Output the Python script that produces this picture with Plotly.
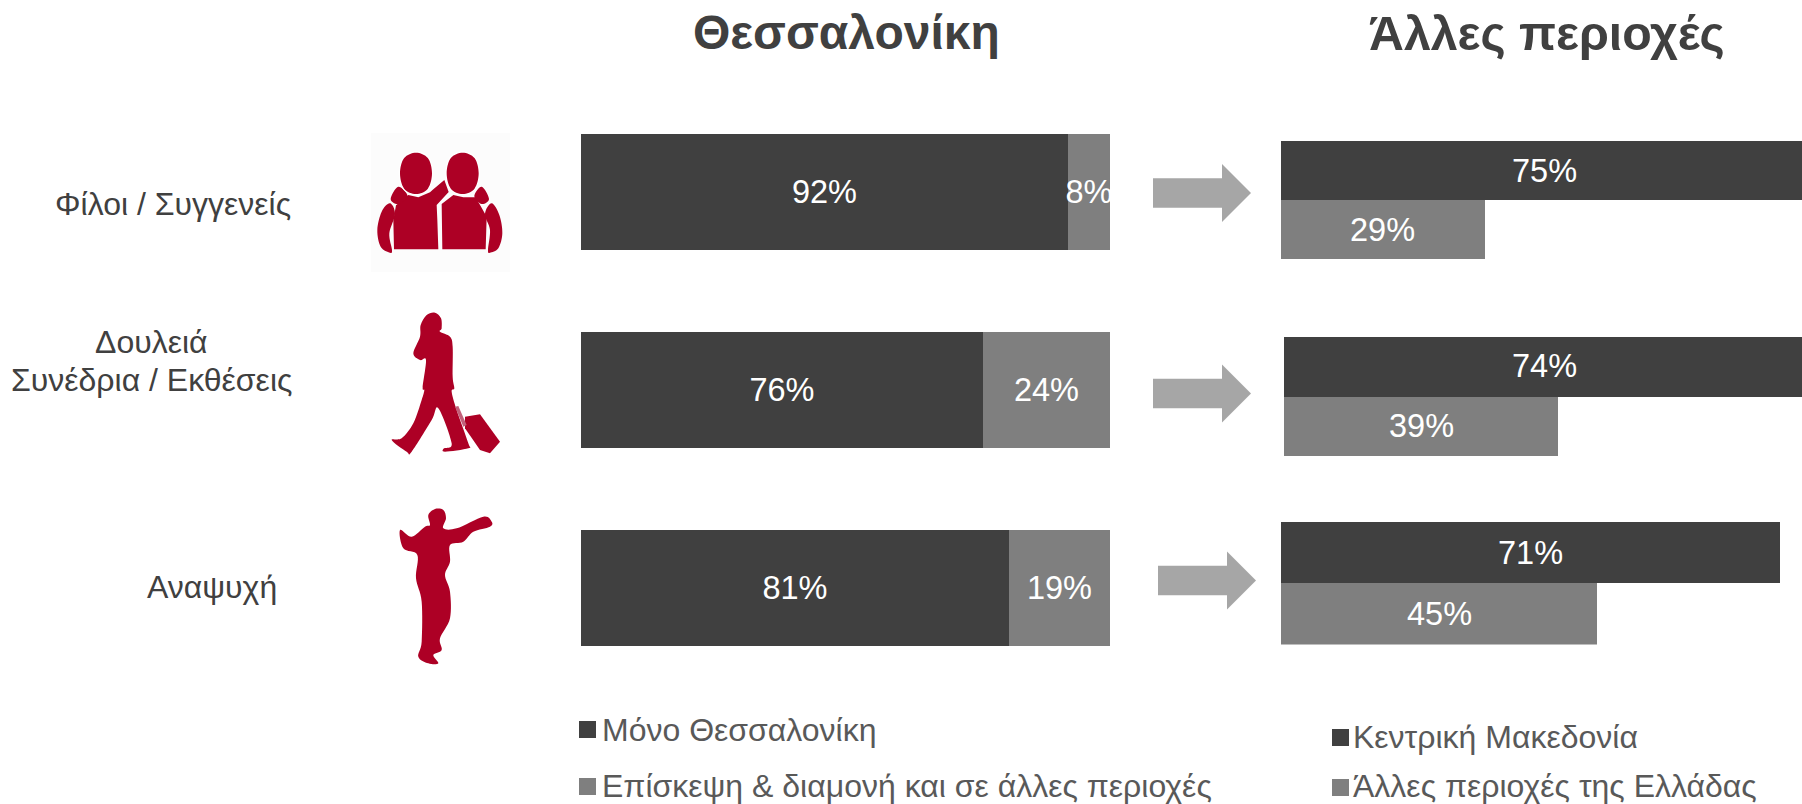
import plotly.graph_objects as go

W, H = 1802, 804
FONT = "Liberation Sans, Arial, sans-serif"
DARK, GREY, ARROW, RED, TXT = "#404040", "#7f7f7f", "#a6a6a6", "#ad0025", "#404040"

# ---------- data ----------
categories = ["Φίλοι / Συγγενείς", "Δουλειά<br>Συνέδρια / Εκθέσεις", "Αναψυχή"]
only_thess = [92, 76, 81]
other_stay = [8, 24, 19]
central_mac = [75, 74, 71]
rest_greece = [29, 39, 45]
titles = ["Θεσσαλονίκη", "Άλλες περιοχές"]
legend_left = ["Μόνο Θεσσαλονίκη", "Επίσκεψη & διαμονή και σε άλλες περιοχές"]
legend_right = ["Κεντρική Μακεδονία", "Άλλες περιοχές της Ελλάδας"]

# ---------- layout helpers (pixels -> fractions) ----------
def xd(a, b):
    return [a / W, min(b / W, 1)]

def yd(top, bottom):
    return [1 - bottom / H, 1 - top / H]

fig = go.Figure()
layout = dict(
    width=W, height=H, margin=dict(l=0, r=0, t=0, b=0, pad=0), autosize=False,
    paper_bgcolor="white", plot_bgcolor="rgba(0,0,0,0)", showlegend=False,
    barmode="stack", bargap=0, font=dict(family=FONT, color=TXT),
)

def hide(**kw):
    return dict(visible=False, fixedrange=True, **kw)

annotations = []

# Left panel: one axis pair, three rows
layout["xaxis"] = hide(domain=xd(581, 1110), range=[0, 100], anchor="y")
layout["yaxis"] = hide(domain=yd(93.3, 687.3), autorange="reversed", type="category",
                       categoryorder="array", categoryarray=categories, anchor="x")
TXTF = dict(family=FONT, size=32.5, color="white")
common = dict(orientation="h", textposition="inside", insidetextanchor="middle",
              textangle=0, constraintext="none", texttemplate="%{x}%",
              textfont=TXTF, insidetextfont=TXTF, cliponaxis=False,
              width=0.582, marker_line_width=0, hoverinfo="skip")
fig.add_bar(y=categories, x=only_thess, name=legend_left[0], marker_color=DARK, xaxis="x", yaxis="y", **common)
fig.add_bar(y=categories, x=other_stay, name=legend_left[1], marker_color=GREY, xaxis="x", yaxis="y", **common)

# Right panels: one axis pair per row
PX_PER_PCT = 7.03
right_rows = [(1281, 141, 259), (1284, 336.5, 456), (1281, 522, 644.5)]
for i, (x0, top, bot) in enumerate(right_rows):
    n = i + 2
    xa, ya = f"x{n}", f"y{n}"
    layout[f"xaxis{n}"] = hide(domain=xd(x0, W), range=[0, (W - x0) / PX_PER_PCT], anchor=ya)
    layout[f"yaxis{n}"] = hide(domain=yd(top, bot), range=[1.5, -0.5], type="linear", anchor=xa)
    for j, (vals, col, name) in enumerate([(central_mac, DARK, legend_right[0]), (rest_greece, GREY, legend_right[1])]):
        fig.add_bar(y=[j], x=[vals[i]], name=name, marker_color=col, xaxis=xa, yaxis=ya,
                    orientation="h", cliponaxis=True, width=1, textposition="none",
                    marker_line_width=0, hoverinfo="skip")
        # Labels as annotations on the axis: the long bars run past the page edge
        annotations.append(dict(text=f"{vals[i]}%", x=vals[i] / 2, y=j, xref=xa, yref=ya, showarrow=False,
                                xanchor="center", yanchor="middle", font=TXTF, borderpad=0))

# Overlay pixel axis for arrows, icons, legend keys
layout["xaxis9"] = hide(domain=[0, 1], range=[0, W], anchor="y9")
layout["yaxis9"] = hide(domain=[0, 1], range=[H, 0], anchor="x9")
fig.add_scatter(x=[0], y=[0], xaxis="x9", yaxis="y9", mode="markers", marker_opacity=0, hoverinfo="skip")

shapes = []
def poly(points, ox, oy, color, smooth=True, s=3.0, width=0):
    pts = [(ox + x / s, oy + y / s) for x, y in points]
    n = len(pts)
    if smooth:
        d = f"M{pts[0][0]:.2f},{pts[0][1]:.2f}"
        for i in range(n):
            p0, p1, p2, p3 = pts[i - 1], pts[i], pts[(i + 1) % n], pts[(i + 2) % n]
            c1 = (p1[0] + (p2[0] - p0[0]) / 6, p1[1] + (p2[1] - p0[1]) / 6)
            c2 = (p2[0] - (p3[0] - p1[0]) / 6, p2[1] - (p3[1] - p1[1]) / 6)
            d += f" C{c1[0]:.2f},{c1[1]:.2f} {c2[0]:.2f},{c2[1]:.2f} {p2[0]:.2f},{p2[1]:.2f}"
        d += " Z"
    else:
        d = "M" + " L".join(f"{x:.2f},{y:.2f}" for x, y in pts) + " Z"
    shapes.append(dict(type="path", path=d, xref="x9", yref="y9", fillcolor=color,
                       line=dict(width=width, color=color), layer="above"))

def arrow(x0, cy):
    p = [(x0, cy - 14.7), (x0 + 69, cy - 14.7), (x0 + 69, cy - 29), (x0 + 98, cy),
         (x0 + 69, cy + 29), (x0 + 69, cy + 14.7), (x0, cy + 14.7)]
    poly(p, 0, 0, ARROW, smooth=False, s=1.0)

arrow(1153, 193)
arrow(1153, 393.5)
arrow(1158, 580.5)

# Friends icon
shapes.append(dict(type="rect", xref="x9", yref="y9", x0=371, x1=510, y0=133, y1=272,
                   fillcolor="#fcfcfc", line_width=0, layer="below"))
ox, oy = 340, 120
def ell(cx, cy, rx, ry):
    k = 0.74
    return [(cx, cy - ry), (cx + k * rx, cy - k * ry), (cx + rx, cy), (cx + k * rx, cy + k * ry),
            (cx, cy + ry), (cx - k * rx, cy + k * ry), (cx - rx, cy), (cx - k * rx, cy - k * ry)]
poly([(162, 388), (295, 388), (292, 300), (290, 255), (326, 216), (313, 180), (280, 208), (270, 217), (235, 232),
      (205, 225), (168, 256), (160, 300)], ox, oy, RED, smooth=False)
poly([(307, 388), (437, 388), (440, 290), (407, 232), (370, 232), (340, 225), (305, 252)], ox, oy, RED, smooth=False)
poly([(150, 250), (125, 275), (112, 330), (122, 380), (150, 398), (156, 390), (148, 340), (165, 282)], ox, oy, RED)
poly([(455, 250), (478, 285), (487, 340), (475, 385), (450, 398), (444, 390), (450, 330), (435, 282)], ox, oy, RED)
poly([(175, 200), (152, 237), (175, 252), (203, 228)], ox, oy, RED)
poly([(425, 200), (447, 237), (425, 252), (403, 228)], ox, oy, RED)
poly(ell(228, 160, 52, 66), ox, oy, "white")
poly(ell(368, 160, 52, 66), ox, oy, "white")
poly(ell(228, 160, 48, 62), ox, oy, RED)
poly(ell(368, 160, 48, 62), ox, oy, RED)

# Walker icon
ox, oy = 370, 300
poly([(170, 45), (195, 38), (213, 55), (215, 85), (210, 95), (240, 110), (248, 140), (248, 230), (253, 265),
      (245, 275), (260, 330), (295, 430), (295, 445), (225, 455), (222, 445), (245, 430), (205, 325), (185, 360),
      (125, 455), (110, 455), (65, 420), (95, 415), (130, 370), (155, 300), (163, 270), (158, 262), (168, 180),
      (150, 180), (130, 160), (150, 110), (152, 75)], ox, oy, RED)
poly([(285, 350), (330, 343), (390, 425), (360, 460), (330, 450), (285, 385)], ox, oy, RED, smooth=False)
poly([(255, 320), (265, 318), (290, 375), (280, 380)], ox, oy, "#c2607a", smooth=False)

# Dancer icon
ox, oy = 380, 495
poly([(145, 60), (165, 42), (190, 45), (198, 70), (190, 100), (230, 100), (310, 65), (335, 80), (330, 95), (280, 110),
      (250, 140), (210, 150), (210, 200), (195, 240), (210, 290), (210, 370), (180, 430), (185, 465), (160, 480),
      (175, 505), (145, 505), (115, 485), (125, 440), (125, 320), (108, 250), (112, 180), (70, 160), (60, 105),
      (95, 125), (135, 95), (150, 90)], ox, oy, RED)

# Legend keys
for x0, y0, c in [(579, 721, DARK), (579, 778, GREY), (1332, 729, DARK), (1332, 779, GREY)]:
    shapes.append(dict(type="rect", xref="x9", yref="y9", x0=x0, x1=x0 + 17, y0=y0, y1=y0 + 17,
                       fillcolor=c, line_width=0))

def label(text, x, y, size, anchor="center", bold=False, color=TXT):
    annotations.append(dict(text=f"<b>{text}</b>" if bold else text, x=x / W, y=1 - y / H, xref="paper", yref="paper",
                            showarrow=False, xanchor=anchor, yanchor="middle", align="center",
                            font=dict(family=FONT, size=size, color=color), borderpad=0))

label(titles[0], 846, 33, 48, bold=True)
label(titles[1], 1547, 33, 48.3, bold=True)
label(categories[0], 173, 204, 32)
line1, line2 = categories[1].split("<br>")
label(line1, 151, 342, 32)
label(line2, 151, 380, 32)
label(categories[2], 212, 587, 32)
label(legend_left[0], 601, 730, 32, "left", color="#595959")
label(legend_left[1], 601, 786, 32, "left", color="#595959")
label(legend_right[0], 1352, 737, 32, "left", color="#595959")
label(legend_right[1], 1352, 786, 32, "left", color="#595959")

layout["shapes"] = shapes
layout["annotations"] = annotations
fig.update_layout(**layout)
fig.write_html("out.html", config=dict(displayModeBar=False),
               post_script="document.body.style.margin='0';document.body.style.overflow='hidden';")
